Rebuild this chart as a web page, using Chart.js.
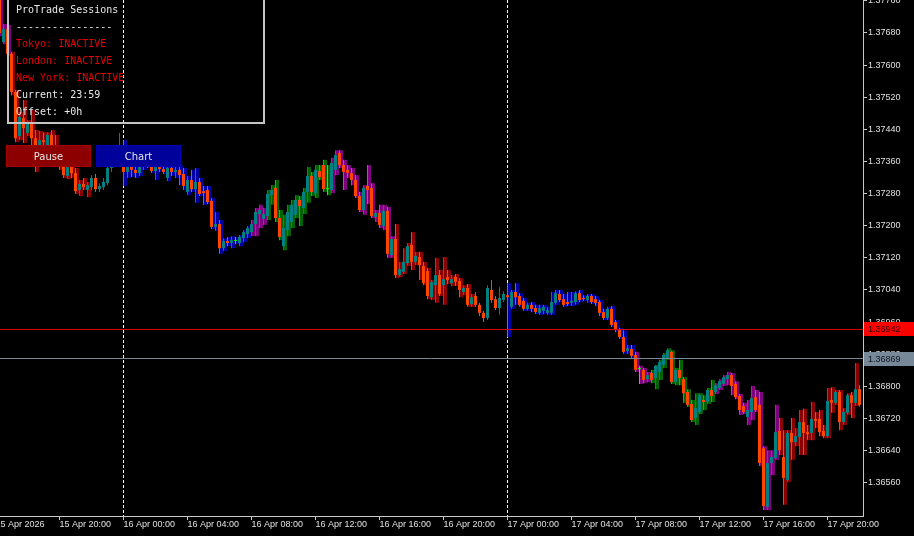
<!DOCTYPE html>
<html>
<head>
<meta charset="utf-8">
<script src="https://cdn.jsdelivr.net/npm/chart.js@4.4.1/dist/chart.umd.min.js"></script>
<style>
html,body{margin:0;padding:0;background:#000;overflow:hidden}
#wrap{position:relative;width:914px;height:536px;background:#000;overflow:hidden}
#c{display:block}
#panel{position:absolute;left:7px;top:-10px;width:258px;height:134px;border:2px solid #c4c4c4;box-sizing:border-box;pointer-events:none}
.pl{position:absolute;left:16px;font:10px 'DejaVu Sans Mono',monospace;line-height:12px;white-space:pre;color:#e8e8e8}
.red{color:#e80000}
.btn{position:absolute;top:145px;width:85px;height:22px;box-sizing:border-box;font:10px 'DejaVu Sans',sans-serif;color:#e6e6e6;text-align:center;line-height:21px}
#pause{left:6px;background:#8c0000;border:1px solid #a40000}
#chartBtn{left:96px;background:#00009a;border:1px solid #0000b4}
</style>
</head>
<body>
<div id="wrap">
<canvas id="c" width="914" height="536"></canvas>
<div id="panel"></div>
<div class="pl" style="top:4px">ProTrade Sessions</div>
<div class="pl" style="top:21px">----------------</div>
<div class="pl red" style="top:38px">Tokyo: INACTIVE</div>
<div class="pl red" style="top:55px">London: INACTIVE</div>
<div class="pl red" style="top:72px">New York: INACTIVE</div>
<div class="pl" style="top:89px">Current: 23:59</div>
<div class="pl" style="top:106px">Offset: +0h</div>
<div class="btn" id="pause">Pause</div>
<div class="btn" id="chartBtn">Chart</div>
</div>
<script>
// ---------------- DATA ----------------
const firstBarTime = '2026-04-15T16:15:00Z';   // M15 bars
const barMinutes = 15;
const axisOrigin = '2026-04-16T00:00:00Z';

const opens = [
 1.37762,1.37657,1.37690,1.37628,1.37533,1.37423,1.37468,1.37431,1.37456,1.37418,
 1.37388,1.37413,1.37401,1.37426,1.37398,1.37376,1.37364,1.37324,1.37346,1.37331,
 1.37289,1.37304,1.37289,1.37296,1.37319,1.37291,1.37296,1.37306,1.37344,1.37359,
 1.37374,
 1.37398,1.37334,1.37351,1.37339,1.37331,1.37349,1.37364,1.37356,1.37336,1.37346,
 1.37341,1.37319,1.37344,1.37334,1.37339,1.37329,1.37284,1.37314,1.37291,1.37309,
 1.37286,1.37289,1.37262,1.37197,1.37204,1.37144,1.37162,1.37157,1.37162,1.37157,
 1.37169,1.37179,1.37184,1.37204,1.37229,1.37217,1.37224,1.37276,1.37294,1.37219,
 1.37149,1.37189,1.37209,1.37227,1.37264,1.37244,1.37284,1.37324,1.37281,1.37336,
 1.37351,1.37291,1.37289,1.37339,1.37381,1.37351,1.37339,1.37331,1.37314,1.37274,
 1.37239,1.37299,1.37294,1.37222,1.37232,1.37199,1.37237,1.37127,1.37167,1.37077,
 1.37085,1.37107,1.37152,1.37110,1.37122,1.37100,1.37087,1.37022,1.37052,1.37077,
 1.37052,1.37072,1.37057,1.37072,1.37062,1.37035,1.37045,1.37005,1.37025,1.37003,
 1.36983,1.36970,1.37040,1.37017,1.36995,1.37015,
 1.37027,1.36998,1.37035,1.37025,1.37013,1.36993,1.37003,1.36995,1.36983,1.36988,
 1.36983,1.36983,1.37008,1.37030,1.37017,1.37010,1.37008,1.37010,1.37032,1.37020,
 1.37015,1.37025,1.37017,1.37010,1.36985,1.36970,1.36993,1.36960,1.36940,1.36923,
 1.36888,1.36893,1.36878,1.36843,1.36841,1.36818,1.36833,1.36821,1.36836,1.36853,
 1.36871,1.36886,1.36811,1.36841,1.36818,1.36786,1.36756,1.36721,1.36736,1.36766,
 1.36761,1.36791,1.36786,1.36796,1.36806,1.36818,1.36828,1.36806,1.36776,1.36751,
 1.36724,1.36736,1.36773,1.36754,1.36646,1.36500,1.36609,1.36622,1.36689,1.36624,
 1.36567,1.36684,1.36661,1.36674,1.36711,1.36686,1.36684,1.36719,1.36719,1.36689,
 1.36676,1.36766,1.36759,1.36786,1.36711,1.36734,1.36778,1.36759,1.36793
];
const highs = [
 1.37787,1.37702,1.37700,1.37633,1.37538,1.37483,1.37513,1.37463,1.37488,1.37438,
 1.37436,1.37433,1.37433,1.37438,1.37426,1.37401,1.37388,1.37369,1.37364,1.37344,
 1.37314,1.37319,1.37309,1.37326,1.37329,1.37306,1.37319,1.37351,1.37369,1.37388,
 1.37431,
 1.37413,1.37364,1.37369,1.37364,1.37359,1.37376,1.37388,1.37369,1.37364,1.37369,
 1.37364,1.37351,1.37359,1.37351,1.37351,1.37344,1.37324,1.37339,1.37344,1.37319,
 1.37299,1.37299,1.37269,1.37234,1.37214,1.37169,1.37172,1.37174,1.37172,1.37177,
 1.37189,1.37199,1.37214,1.37244,1.37252,1.37244,1.37289,1.37301,1.37314,1.37239,
 1.37227,1.37252,1.37264,1.37276,1.37274,1.37294,1.37346,1.37334,1.37351,1.37351,
 1.37364,1.37351,1.37369,1.37388,1.37388,1.37364,1.37351,1.37344,1.37326,1.37284,
 1.37301,1.37351,1.37306,1.37239,1.37252,1.37252,1.37247,1.37174,1.37204,1.37110,
 1.37144,1.37157,1.37184,1.37135,1.37135,1.37110,1.37095,1.37065,1.37120,1.37090,
 1.37122,1.37090,1.37077,1.37080,1.37070,1.37052,1.37055,1.37030,1.37035,1.37008,
 1.36988,1.37052,1.37065,1.37025,1.37047,1.37037,
 1.37057,1.37040,1.37057,1.37032,1.37020,1.37008,1.37010,1.37003,1.37003,1.37003,
 1.36998,1.37035,1.37040,1.37040,1.37030,1.37035,1.37035,1.37037,1.37040,1.37027,
 1.37030,1.37030,1.37025,1.37015,1.36993,1.36998,1.37000,1.36965,1.36945,1.36940,
 1.36903,1.36903,1.36886,1.36851,1.36846,1.36836,1.36841,1.36853,1.36866,1.36883,
 1.36895,1.36890,1.36846,1.36866,1.36823,1.36793,1.36766,1.36783,1.36783,1.36778,
 1.36796,1.36816,1.36808,1.36818,1.36828,1.36836,1.36833,1.36813,1.36781,1.36759,
 1.36766,1.36801,1.36791,1.36786,1.36651,1.36641,1.36641,1.36754,1.36721,1.36691,
 1.36691,1.36721,1.36696,1.36741,1.36744,1.36704,1.36761,1.36736,1.36741,1.36704,
 1.36796,1.36798,1.36791,1.36791,1.36746,1.36783,1.36786,1.36858,1.36803
];
const lows = [
 1.37672,1.37652,1.37623,1.37525,1.37408,1.37413,1.37406,1.37423,1.37398,1.37334,
 1.37364,1.37388,1.37388,1.37384,1.37364,1.37339,1.37319,1.37316,1.37319,1.37279,
 1.37274,1.37289,1.37271,1.37289,1.37284,1.37284,1.37289,1.37301,1.37334,1.37349,
 1.37364,
 1.37299,1.37319,1.37321,1.37319,1.37324,1.37339,1.37344,1.37331,1.37314,1.37334,
 1.37329,1.37311,1.37324,1.37319,1.37301,1.37289,1.37276,1.37284,1.37257,1.37274,
 1.37252,1.37254,1.37192,1.37187,1.37130,1.37137,1.37149,1.37144,1.37154,1.37149,
 1.37159,1.37169,1.37174,1.37174,1.37194,1.37202,1.37214,1.37252,1.37209,1.37164,
 1.37139,1.37174,1.37194,1.37219,1.37199,1.37229,1.37257,1.37274,1.37269,1.37314,
 1.37284,1.37276,1.37281,1.37326,1.37344,1.37289,1.37319,1.37301,1.37269,1.37234,
 1.37227,1.37254,1.37219,1.37209,1.37194,1.37189,1.37120,1.37120,1.37070,1.37072,
 1.37080,1.37100,1.37090,1.37102,1.37065,1.37052,1.37017,1.37015,1.37008,1.37025,
 1.37003,1.37055,1.37050,1.37050,1.37022,1.37027,1.36998,1.36998,1.36998,1.36975,
 1.36960,1.36965,1.37008,1.36990,1.36978,1.37010,
 1.36923,1.36993,1.37003,1.36998,1.36988,1.36988,1.36985,1.36980,1.36978,1.36980,
 1.36978,1.36978,1.37003,1.37010,1.36998,1.37000,1.37000,1.37003,1.37010,1.37013,
 1.37008,1.37005,1.37000,1.36975,1.36965,1.36965,1.36948,1.36935,1.36918,1.36881,
 1.36881,1.36871,1.36836,1.36806,1.36808,1.36811,1.36808,1.36793,1.36816,1.36846,
 1.36866,1.36806,1.36803,1.36803,1.36759,1.36749,1.36711,1.36704,1.36731,1.36741,
 1.36756,1.36761,1.36781,1.36791,1.36801,1.36803,1.36778,1.36768,1.36729,1.36731,
 1.36704,1.36716,1.36736,1.36602,1.36492,1.36492,1.36579,1.36617,1.36629,1.36505,
 1.36562,1.36617,1.36651,1.36629,1.36629,1.36666,1.36666,1.36696,1.36676,1.36671,
 1.36671,1.36734,1.36754,1.36691,1.36704,1.36729,1.36721,1.36751,1.36749
];
const closes = [
 1.37680,1.37690,1.37628,1.37533,1.37418,1.37471,1.37443,1.37456,1.37418,1.37364,
 1.37413,1.37408,1.37426,1.37398,1.37376,1.37364,1.37326,1.37346,1.37331,1.37286,
 1.37304,1.37296,1.37301,1.37319,1.37291,1.37299,1.37309,1.37344,1.37359,1.37376,
 1.37401,
 1.37334,1.37351,1.37339,1.37331,1.37349,1.37364,1.37356,1.37336,1.37346,1.37341,
 1.37334,1.37344,1.37334,1.37339,1.37326,1.37299,1.37314,1.37291,1.37309,1.37279,
 1.37281,1.37259,1.37197,1.37204,1.37144,1.37162,1.37157,1.37164,1.37162,1.37172,
 1.37184,1.37194,1.37204,1.37234,1.37239,1.37229,1.37279,1.37289,1.37219,1.37172,
 1.37194,1.37234,1.37252,1.37264,1.37249,1.37284,1.37324,1.37284,1.37339,1.37321,
 1.37291,1.37291,1.37356,1.37376,1.37351,1.37334,1.37331,1.37314,1.37274,1.37239,
 1.37294,1.37289,1.37224,1.37232,1.37202,1.37237,1.37130,1.37167,1.37077,1.37092,
 1.37110,1.37149,1.37110,1.37125,1.37102,1.37057,1.37025,1.37060,1.37077,1.37030,
 1.37067,1.37065,1.37067,1.37060,1.37040,1.37045,1.37003,1.37022,1.37003,1.36983,
 1.36970,1.37045,1.37015,1.36995,1.37020,1.37030,
 1.37022,1.37035,1.37022,1.37003,1.36993,1.37003,1.36993,1.36985,1.36995,1.36998,
 1.36990,1.37010,1.37032,1.37015,1.37003,1.37005,1.37013,1.37032,1.37015,1.37017,
 1.37025,1.37010,1.37008,1.36983,1.36970,1.36993,1.36953,1.36940,1.36923,1.36886,
 1.36895,1.36876,1.36841,1.36843,1.36816,1.36828,1.36816,1.36851,1.36861,1.36878,
 1.36890,1.36811,1.36841,1.36821,1.36783,1.36754,1.36716,1.36746,1.36778,1.36761,
 1.36791,1.36776,1.36803,1.36813,1.36823,1.36828,1.36801,1.36773,1.36741,1.36736,
 1.36741,1.36771,1.36741,1.36609,1.36502,1.36609,1.36624,1.36686,1.36641,1.36572,
 1.36684,1.36661,1.36676,1.36711,1.36684,1.36681,1.36719,1.36714,1.36686,1.36676,
 1.36764,1.36759,1.36786,1.36711,1.36736,1.36778,1.36759,1.36793,1.36754
];

const yTicks = [1.36560,1.36640,1.36720,1.36800,1.36880,1.36960,1.37040,1.37120,
                1.37200,1.37280,1.37360,1.37440,1.37520,1.37600,1.37680,1.37760];
const xTickHours = [-8,-4,0,4,8,12,16,20,24,28,32,36,40,44];
const xTickLabels = ['15 Apr 2026','15 Apr 20:00','16 Apr 00:00','16 Apr 04:00','16 Apr 08:00',
  '16 Apr 12:00','16 Apr 16:00','16 Apr 20:00','17 Apr 00:00','17 Apr 04:00','17 Apr 08:00',
  '17 Apr 12:00','17 Apr 16:00','17 Apr 20:00'];
const daySeparatorHours = [0, 24];
const priceLevels = [1.36942, 1.36869];
const sessionNames = ['Tokyo','London','New York'];
const sessionStartHour = [0, 8, 13];
const sessionEndHour = [9, 17, 22];

// ---------------- STYLE ----------------
const BEAR = '#ff4500', BULL = '#008080', DOJI = '#00ff00';
const SESSION_COLORS = ['#0000a8', '#006400', '#8b0000'];
const OVERLAP_COLOR = '#800080';
const LEVEL_STYLE = [
  {line:'#e00000', box:'#ff0000', text:'#200000'},
  {line:'#778899', box:'#778899', text:'#101820'}
];
const X_MIN = -7.71875, X_MAX = 46.21875;   // visible window in hours
const Y_MIN = 1.364772, Y_MAX = 1.37762;
const SESSION_SHIFT = 0.125;                 // session bar drawn beside the candle

// ---------------- BUILD ----------------
const t0 = Date.parse(firstBarTime), origin = Date.parse(axisOrigin);
const hours = opens.map((_, i) => (t0 + i * barMinutes * 60000 - origin) / 3600000);

function sessionColor(h) {
  const hod = ((h % 24) + 24) % 24;
  const active = sessionStartHour.map((s, j) => hod >= s && hod < sessionEndHour[j]);
  const n = active.filter(Boolean).length;
  if (n === 0) return 'rgba(0,0,0,0)';
  if (n > 1) return OVERLAP_COLOR;
  return SESSION_COLORS[active.indexOf(true)];
}
const bodyColors = opens.map((o, i) => closes[i] > o ? BULL : (closes[i] < o ? BEAR : DOJI));
const sessColors = hours.map(sessionColor);

const bodyData = hours.map((h, i) => ({x: h, y: [opens[i], closes[i]]}));
const wickData = hours.map((h, i) => ({x: h, y: [lows[i], highs[i]]}));
const sessData = hours.map((h, i) => ({x: h, y: [lows[i], highs[i]]}));

const mtPlugin = {
  id: 'mtOverlay',
  beforeDatasetsDraw(chart) {
    const {ctx, chartArea: a, scales: {x}} = chart;
    ctx.save();
    ctx.beginPath(); ctx.rect(a.left, a.top, a.right - a.left, a.bottom - a.top); ctx.clip();
    ctx.strokeStyle = '#ffffff'; ctx.lineWidth = 1; ctx.setLineDash([3, 2]);
    daySeparatorHours.forEach(h => {
      const px = Math.round(x.getPixelForValue(h) - 0.5) + 0.5;
      ctx.beginPath(); ctx.moveTo(px, a.top); ctx.lineTo(px, a.bottom); ctx.stroke();
    });
    ctx.restore();
  },
  afterDatasetsDraw(chart) {
    const {ctx, chartArea: a, scales: {y}} = chart;
    ctx.save();
    priceLevels.forEach((v, i) => {
      const py = Math.round(y.getPixelForValue(v) - 0.5) + 0.5;
      ctx.strokeStyle = LEVEL_STYLE[i].line; ctx.lineWidth = 1;
      ctx.beginPath(); ctx.moveTo(a.left, py); ctx.lineTo(a.right, py); ctx.stroke();
    });
    ctx.restore();
  },
  afterDraw(chart) {
    const {ctx, chartArea: a, scales: {y}} = chart;
    ctx.save();
    ctx.font = "9px 'Liberation Sans', Arial, sans-serif";
    ctx.textBaseline = 'middle'; ctx.textAlign = 'left';
    priceLevels.forEach((v, i) => {
      const py = Math.round(y.getPixelForValue(v));
      ctx.fillStyle = LEVEL_STYLE[i].box;
      ctx.fillRect(a.right + 1, py - 7, 914 - a.right - 1, 14);
      ctx.fillStyle = LEVEL_STYLE[i].text;
      ctx.fillText(v.toFixed(5), a.right + 5, py + 0.5);
    });
    ctx.restore();
  }
};

Chart.defaults.font.family = "'Liberation Sans', Arial, sans-serif";
const barCommon = {grouped: false, borderWidth: 0, inflateAmount: 0, clip: 0};

new Chart(document.getElementById('c'), {
  type: 'bar',
  data: {
    datasets: [
      Object.assign({label: 'Body', data: bodyData, xAxisID: 'x', yAxisID: 'y',
        backgroundColor: bodyColors, barThickness: 3, maxBarThickness: 3, minBarLength: 1, order: 0}, barCommon),
      Object.assign({label: 'Wick', data: wickData, xAxisID: 'x', yAxisID: 'y',
        backgroundColor: bodyColors, barThickness: 1, maxBarThickness: 1, minBarLength: 1, order: 1}, barCommon),
      Object.assign({label: 'Session', data: sessData, xAxisID: 'x2', yAxisID: 'y',
        backgroundColor: sessColors, barThickness: 3, maxBarThickness: 3, order: 2}, barCommon)
    ]
  },
  options: {
    responsive: false, animation: false, devicePixelRatio: 1, events: [],
    layout: {padding: 0},
    plugins: {legend: {display: false}, tooltip: {enabled: false}},
    scales: {
      x: {
        type: 'linear', position: 'bottom', min: X_MIN, max: X_MAX, offset: false,
        grid: {offset: false, drawOnChartArea: false, drawTicks: true, tickLength: 4, color: '#c8c8c8'},
        border: {display: true, color: '#c8c8c8', width: 1},
        ticks: {autoSkip: false, maxRotation: 0, minRotation: 0, align: 'start', padding: -1,
          color: '#e0e0e0', font: {size: 9}, callback: (v, i) => xTickLabels[i]},
        afterBuildTicks: s => { s.ticks = xTickHours.map(v => ({value: v})); },
        afterFit: s => { s.height = 20; s.paddingLeft = 0; s.paddingRight = 0; }
      },
      x2: {
        type: 'linear', display: false, offset: false, grid: {offset: false},
        min: X_MIN - SESSION_SHIFT, max: X_MAX - SESSION_SHIFT
      },
      y: {
        type: 'linear', position: 'right', min: Y_MIN, max: Y_MAX,
        grid: {drawOnChartArea: false, drawTicks: true, tickLength: 4, color: '#c8c8c8'},
        border: {display: true, color: '#c8c8c8', width: 1},
        ticks: {autoSkip: false, padding: 1, color: '#e0e0e0', font: {size: 9},
          callback: v => Number(v).toFixed(5)},
        afterBuildTicks: s => { s.ticks = yTicks.map(v => ({value: v})); },
        afterFit: s => { s.width = 51; s.paddingTop = 0; s.paddingBottom = 0; }
      }
    }
  },
  plugins: [mtPlugin]
});
</script>
</body>
</html>
